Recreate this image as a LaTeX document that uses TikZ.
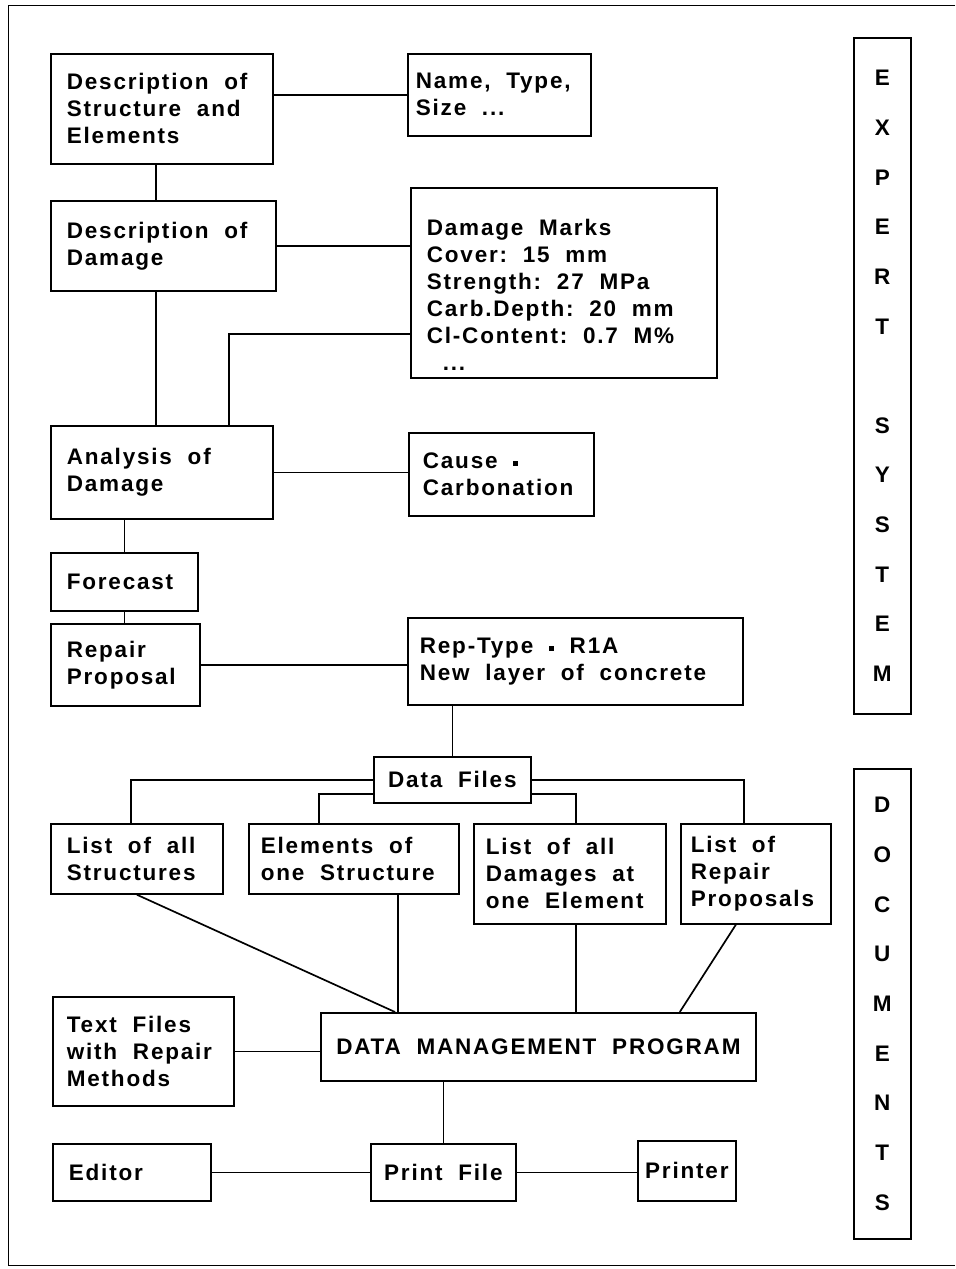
\documentclass[tikz,border=0pt]{standalone}
\usepackage{fontspec}
\setmainfont{Liberation Sans}[LetterSpace=8]
\usetikzlibrary{calc}

\begin{document}
\begin{tikzpicture}[x=0.025cm,y=-0.025cm,
    box/.style={draw,line width=1.2pt,align=left,inner xsep=0.4cm,inner ysep=0pt,
      anchor=north west,font=\fontsize{16pt}{19.2pt}\selectfont\bfseries,
      execute at begin node={\spaceskip=0.7em\xspaceskip=0.7em\relax}},
    cbox/.style={box,align=center,inner xsep=0pt},
    letters/.style={draw,line width=1.2pt,align=center,anchor=north west,inner sep=0pt,
      minimum width=1.425cm,font=\fontsize{16pt}{35.3pt}\selectfont\bfseries},
    link/.style={line width=1.2pt}]
  \useasboundingbox (0,0) rectangle (955,1269);
  \draw[line width=0.7pt] (955,5) -- (8,5) -- (8,1265) -- (955,1265);

  % expert system part
  \node[box,text width=4.75cm,minimum height=2.75cm] (struct) at (50,53) {Description of\\Structure and\\Elements};
  \node[box,inner xsep=0.2cm,text width=4.175cm,minimum height=2.05cm] (name) at (407,53) {Name, Type,\\Size ...};
  \node[box,text width=4.825cm,minimum height=2.25cm] (damage) at (50,200) {Description of\\Damage};
  \node[box,text width=6.85cm,minimum height=4.75cm] (marks) at (410,187) {\rule{0pt}{1cm}Damage Marks\\Cover: 15 mm\\Strength: 27 MPa\\Carb.Depth: 20 mm\\Cl-Content: 0.7 M\%\\\hspace*{0.4cm}...};
  \node[box,text width=4.75cm,minimum height=2.325cm] (analysis) at (50,425) {Analysis of\\Damage};
  \node[box,inner xsep=0.35cm,text width=3.925cm,minimum height=2.075cm] (cause) at (408,432) {Cause \raisebox{0.12em}{\rule{0.22em}{0.22em}}\\Carbonation};
  \node[box,text width=2.875cm,minimum height=1.45cm] (forecast) at (50,552) {Forecast};
  \node[box,text width=2.925cm,minimum height=2.05cm] (repair) at (50,623) {Repair\\Proposal};
  \node[box,inner xsep=0.3cm,text width=7.775cm,minimum height=2.175cm] (reptype) at (407,617) {Rep-Type \raisebox{0.12em}{\rule{0.22em}{0.22em}} R1A\\New layer of concrete};

  \draw[link] (name.west) -- (name.west -| struct.east);
  \draw[link] ([xshift=-0.15cm]struct.south) coordinate (s1) -- (s1 |- damage.north);
  \draw[link] (damage.east) -- (damage.east -| marks.west);
  \draw[link] ([xshift=-0.18cm]damage.south) coordinate (s2) -- (s2 |- analysis.north);
  \draw[link] ([yshift=-1.275cm]marks.west) -| ([xshift=1.675cm]analysis.north);
  \draw[link] (analysis.east) -- (analysis.east -| cause.west);
  \draw[link] (forecast.north) -- (forecast.north |- analysis.south);
  \draw[link] (forecast.south) -- (forecast.south |- repair.north);
  \draw[link] (repair.east) -- (repair.east -| reptype.west);

  % documents part
  \node[cbox,minimum width=3.925cm,minimum height=1.15cm] (datafiles) at (373,756) {Data Files};
  \node[box,text width=3.5cm,minimum height=1.75cm] (listall) at (50,823) {List of all\\Structures};
  \node[box,inner xsep=0.3cm,text width=4.65cm,minimum height=1.75cm] (elements) at (248,823) {Elements of\\one Structure};
  \node[box,inner xsep=0.3cm,text width=4.2cm,minimum height=2.5cm] (damages) at (473,823) {List of all\\Damages at\\one Element};
  \node[box,inner xsep=0.25cm,text width=3.25cm,minimum height=2.5cm] (repprops) at (680,823) {List of\\Repair\\Proposals};
  \node[cbox,minimum width=10.875cm,minimum height=1.7cm] (dmp) at (320,1012) {DATA MANAGEMENT PROGRAM};
  \node[box,inner xsep=0.35cm,text width=3.825cm,minimum height=2.725cm] (textfiles) at (52,996) {Text Files\\with Repair\\Methods};
  \node[box,text width=3.15cm,minimum height=1.425cm] (editor) at (52,1143) {Editor};
  \node[cbox,minimum width=3.625cm,minimum height=1.425cm] (printfile) at (370,1143) {Print File};
  \node[cbox,minimum width=2.45cm,minimum height=1.5cm] (printer) at (637,1140) {Printer};

  \draw[link] (datafiles.north) -- (datafiles.north |- reptype.south);
  \draw[link] (datafiles.west) -| ([xshift=-0.15cm]listall.north);
  \draw[link] (datafiles.east) -| ([xshift=-0.3cm]repprops.north);
  \draw[link] ([yshift=-0.35cm]datafiles.west) -| ([xshift=-0.875cm]elements.north);
  \draw[link] ([yshift=-0.35cm]datafiles.east) -| ([xshift=0.15cm]damages.north);
  \draw[link] (listall.south) -- ([xshift=1.875cm]dmp.north west);
  \draw[link] ([xshift=1.1cm]elements.south) coordinate (e1) -- (e1 |- dmp.north);
  \draw[link] ([xshift=0.15cm]damages.south) coordinate (d1) -- (d1 |- dmp.north);
  \draw[link] ([xshift=-0.5cm]repprops.south) -- ([xshift=-1.925cm]dmp.north east);
  \draw[link] (textfiles.east) -- (textfiles.east -| dmp.west);
  \draw[link] (printfile.north) -- (printfile.north |- dmp.south);
  \draw[link] (editor.east) -- (editor.east -| printfile.west);
  \draw[link] (printfile.east) -- (printfile.east -| printer.west);

  % side labels
  \node[letters,minimum height=16.9cm] (expert) at (853,37) {E\\X\\P\\E\\R\\T\\[35.3pt]S\\Y\\S\\T\\E\\M};
  \node[letters,minimum height=11.75cm] (documents) at (853,768) {D\\O\\C\\U\\M\\E\\N\\T\\S};
\end{tikzpicture}
\end{document}
